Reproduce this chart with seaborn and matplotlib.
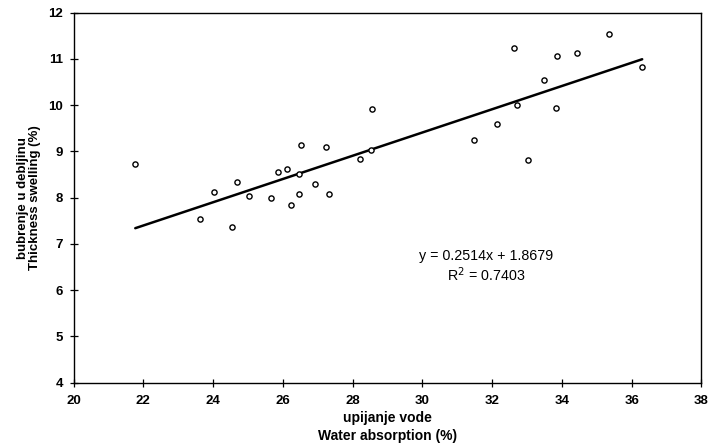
import numpy as np
import pandas as pd
import matplotlib
matplotlib.use("Agg")
import matplotlib.pyplot as plt
import seaborn as sns

# Data
water_absorption = [21.77, 23.62, 24.54, 24.04, 24.69, 25.04, 25.65, 25.85, 26.12, 26.24,
                    26.45, 26.45, 26.51, 26.91, 27.24, 27.32, 28.22, 28.54, 28.56,
                    32.63, 33.87, 34.43, 35.34, 36.30, 33.50, 32.72, 33.84, 32.13, 31.47, 33.02]
thickness_swelling = [8.73, 7.55, 7.36, 8.12, 8.34, 8.03, 7.99, 8.55, 8.61, 7.84,
                      8.52, 8.08, 9.13, 8.30, 9.09, 8.07, 8.84, 9.04, 9.91,
                      11.24, 11.07, 11.13, 11.55, 10.83, 10.54, 10.00, 9.93, 9.59, 9.24, 8.82]
slope = 0.2514
intercept = 1.8679
r_squared = 0.7403
x_ticks = [20, 22, 24, 26, 28, 30, 32, 34, 36, 38]
y_ticks = [4, 5, 6, 7, 8, 9, 10, 11, 12]

sns.set_theme(style="white")
plt.rcParams['font.family'] = ['Liberation Sans', 'DejaVu Sans']
plt.rcParams['text.color'] = 'black'
plt.rcParams['axes.labelcolor'] = 'black'
plt.rcParams['xtick.color'] = 'black'
plt.rcParams['ytick.color'] = 'black'

df = pd.DataFrame({"x": water_absorption, "y": thickness_swelling})
xs = np.array([min(water_absorption), max(water_absorption)])
line_df = pd.DataFrame({"x": xs, "y": slope * xs + intercept})

fig = plt.figure(figsize=(7.09, 4.47), dpi=100)
ax = fig.add_axes([0.1037, 0.1438, 0.8857, 0.8278])

sns.lineplot(data=line_df, x="x", y="y", ax=ax, color="black", linewidth=1.8)
sns.scatterplot(data=df, x="x", y="y", ax=ax, s=14, marker="o",
                facecolors="white", edgecolor="black", linewidth=1.0, zorder=3)

ax.set_xlim(20, 38)
ax.set_ylim(4, 12)
ax.set_xticks(x_ticks)
ax.set_yticks(y_ticks)
ax.tick_params(direction="inout", length=6, width=0.9, colors="black",
               labelsize=9.5, bottom=True, left=True)
ax.tick_params(axis="x", pad=5.5)
ax.tick_params(axis="y", pad=4.5)
for lab in ax.get_xticklabels() + ax.get_yticklabels():
    lab.set_fontweight("bold")
for sp in ax.spines.values():
    sp.set_color("black")
    sp.set_linewidth(1.0)

ax.set_xlabel("upijanje vode\nWater absorption (%)", fontsize=10, fontweight="bold",
              labelpad=3, linespacing=1.35)
ax.set_ylabel("bubrenje u debljinu\nThickness swelling (%)", fontsize=9.5, fontweight="bold",
              labelpad=5, linespacing=1.1)

ax.text(31.82, 6.74, f"y = {slope}x + {intercept}", fontsize=10.3, ha="center", va="center")
ax.text(31.82, 6.33, f"R$^2$ = {r_squared}", fontsize=10.3, ha="center", va="center")

fig.savefig("out.png", dpi=100)
